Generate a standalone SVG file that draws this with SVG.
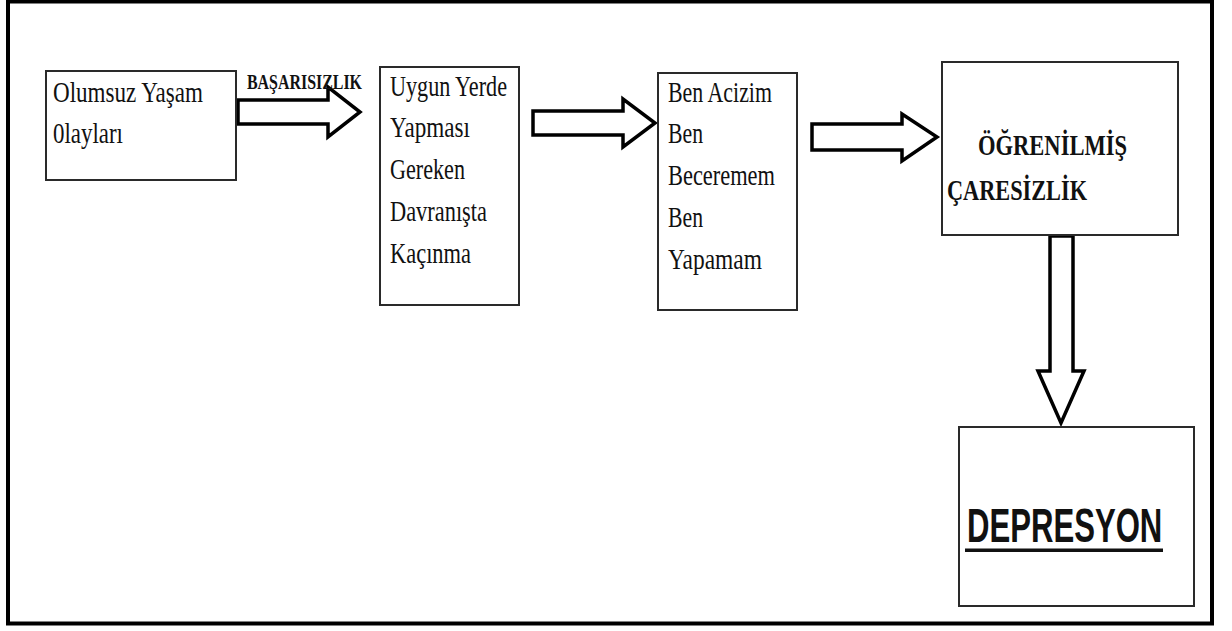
<svg xmlns="http://www.w3.org/2000/svg" width="1232" height="631" viewBox="0 0 1232 631">
<style>
.frame{fill:none;stroke:#000;stroke-width:4}
.box{fill:#fff;stroke:#2a2a2a;stroke-width:2}
.arrow{fill:#fff;stroke:#000;stroke-width:3.5;stroke-linejoin:miter}
.t{font-family:'Liberation Serif','DejaVu Serif',serif;font-size:30px;fill:#111}
.tb{font-family:'Liberation Serif','DejaVu Serif',serif;font-size:30px;font-weight:bold;fill:#111}
.lbl{font-family:'Liberation Serif','DejaVu Serif',serif;font-size:20px;font-weight:bold;fill:#111}
.dep{font-family:'Liberation Sans','DejaVu Sans',sans-serif;font-size:48px;font-weight:bold;fill:#111}
</style>
<rect width="1232" height="631" fill="#fff"/>
<rect class="frame" x="8" y="1.5" width="1204" height="622"/>
<g id="connectors">
<path class="arrow" d="M238,100 H328 V87 L360,112 L328,137 V124 H238 Z"/>
<text class="lbl" x="247" y="89" textLength="115" lengthAdjust="spacingAndGlyphs">BAŞARISIZLIK</text>
<path class="arrow" d="M533,111 H623 V99 L655,123 L623,147 V135 H533 Z"/>
<path class="arrow" d="M812,124 H902 V114 L937,137 L902,161 V150 H812 Z"/>
<path class="arrow" d="M1050,236 H1073 V371 H1084 L1061,423 L1038,371 H1050 Z"/>
</g>
<g id="node-olumsuz">
<rect class="box" x="46" y="71" width="190" height="109"/>
<text class="t" x="53" y="102" textLength="150" lengthAdjust="spacingAndGlyphs">Olumsuz Yaşam</text>
<text class="t" x="53" y="143" textLength="70" lengthAdjust="spacingAndGlyphs">0layları</text>
</g>
<g id="node-uygun">
<rect class="box" x="380" y="67" width="139" height="238"/>
<text class="t" x="390" y="96" textLength="117" lengthAdjust="spacingAndGlyphs">Uygun Yerde</text>
<text class="t" x="390" y="137" textLength="80" lengthAdjust="spacingAndGlyphs">Yapması</text>
<text class="t" x="390" y="179" textLength="75" lengthAdjust="spacingAndGlyphs">Gereken</text>
<text class="t" x="390" y="221" textLength="97" lengthAdjust="spacingAndGlyphs">Davranışta</text>
<text class="t" x="390" y="263" textLength="81" lengthAdjust="spacingAndGlyphs">Kaçınma</text>
</g>
<g id="node-ben">
<rect class="box" x="658" y="73" width="139" height="237"/>
<text class="t" x="668" y="102" textLength="104" lengthAdjust="spacingAndGlyphs">Ben Acizim</text>
<text class="t" x="668" y="143" textLength="35" lengthAdjust="spacingAndGlyphs">Ben</text>
<text class="t" x="668" y="185" textLength="107" lengthAdjust="spacingAndGlyphs">Beceremem</text>
<text class="t" x="668" y="227" textLength="35" lengthAdjust="spacingAndGlyphs">Ben</text>
<text class="t" x="668" y="269" textLength="94" lengthAdjust="spacingAndGlyphs">Yapamam</text>
</g>
<g id="node-caresizlik">
<rect class="box" x="942" y="62" width="236" height="173"/>
<text class="tb" x="978" y="155" textLength="149" lengthAdjust="spacingAndGlyphs">ÖĞRENİLMİŞ</text>
<text class="tb" x="947" y="200" textLength="140" lengthAdjust="spacingAndGlyphs">ÇARESİZLİK</text>
</g>
<g id="node-depresyon">
<rect class="box" x="959" y="427" width="235" height="179"/>
<text class="dep" transform="translate(967,542) scale(0.648,1)" x="0" y="0">DEPRESYON</text>
<rect x="965" y="548.5" width="198" height="3.5" fill="#111"/>
</g>
</svg>
